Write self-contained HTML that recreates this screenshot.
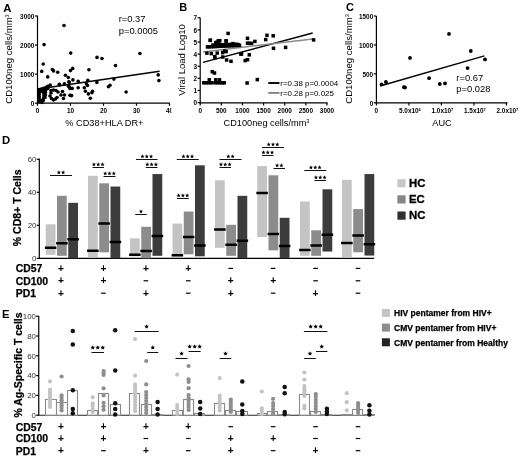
<!DOCTYPE html>
<html><head><meta charset="utf-8"><style>
html,body{margin:0;padding:0;background:#fff;}
svg{display:block;filter:blur(0.2px);}
text{font-family:"Liberation Sans", sans-serif;}
</style></head><body>
<svg width="520" height="456" viewBox="0 0 520 456">
<rect width="520" height="456" fill="#fff"/>
<text x="3.2" y="11.5" font-size="11.3" font-weight="bold" text-anchor="start" fill="#000">A</text>
<line x1="37.5" y1="15.7" x2="37.5" y2="103.8" stroke="#000" stroke-width="1.2"/>
<line x1="36.9" y1="103.2" x2="169.8" y2="103.2" stroke="#000" stroke-width="1.2"/>
<line x1="34.9" y1="103.2" x2="37.5" y2="103.2" stroke="#000" stroke-width="1.2"/>
<text x="34.3" y="105.9" font-size="6.4" font-weight="bold" text-anchor="end" fill="#000">0</text>
<line x1="34.9" y1="74.13" x2="37.5" y2="74.13" stroke="#000" stroke-width="1.2"/>
<text x="34.3" y="76.83" font-size="6.4" font-weight="bold" text-anchor="end" fill="#000">1000</text>
<line x1="34.9" y1="45.06" x2="37.5" y2="45.06" stroke="#000" stroke-width="1.2"/>
<text x="34.3" y="47.760000000000005" font-size="6.4" font-weight="bold" text-anchor="end" fill="#000">2000</text>
<line x1="34.9" y1="15.989999999999995" x2="37.5" y2="15.989999999999995" stroke="#000" stroke-width="1.2"/>
<text x="34.3" y="18.689999999999994" font-size="6.4" font-weight="bold" text-anchor="end" fill="#000">3000</text>
<line x1="37.5" y1="103.2" x2="37.5" y2="105.8" stroke="#000" stroke-width="1.2"/>
<text x="37.5" y="112.7" font-size="6.4" font-weight="bold" text-anchor="middle" fill="#000">0</text>
<line x1="70.5" y1="103.2" x2="70.5" y2="105.8" stroke="#000" stroke-width="1.2"/>
<text x="70.5" y="112.7" font-size="6.4" font-weight="bold" text-anchor="middle" fill="#000">10</text>
<line x1="103.5" y1="103.2" x2="103.5" y2="105.8" stroke="#000" stroke-width="1.2"/>
<text x="103.5" y="112.7" font-size="6.4" font-weight="bold" text-anchor="middle" fill="#000">20</text>
<line x1="136.5" y1="103.2" x2="136.5" y2="105.8" stroke="#000" stroke-width="1.2"/>
<text x="136.5" y="112.7" font-size="6.4" font-weight="bold" text-anchor="middle" fill="#000">30</text>
<line x1="169.5" y1="103.2" x2="169.5" y2="105.8" stroke="#000" stroke-width="1.2"/>
<text x="169.5" y="112.7" font-size="6.4" font-weight="bold" text-anchor="middle" fill="#000">40</text>
<text x="12.1" y="59" font-size="9.6" text-anchor="middle" fill="#000" transform="rotate(-90 12.1 59)">CD100neg cells/mm<tspan font-size="5.6" dy="-3">3</tspan></text>
<rect x="171.40" y="105.00" width="4.50" height="9.00" fill="#fff"/>
<text x="104.4" y="126.4" font-size="9.2" text-anchor="middle" fill="#000">% CD38+HLA DR+</text>
<text x="118.7" y="22.3" font-size="9.4" text-anchor="start" fill="#000">r=0.37</text>
<text x="118.7" y="33.7" font-size="9.4" text-anchor="start" fill="#000">p=0.0005</text>
<line x1="38" y1="89.1" x2="159.6" y2="71.3" stroke="#000" stroke-width="1.5"/>
<circle cx="64.00" cy="25.50" r="1.8" fill="#000"/>
<circle cx="44.10" cy="44.60" r="1.8" fill="#000"/>
<circle cx="70.70" cy="53.10" r="1.8" fill="#000"/>
<circle cx="97.00" cy="57.40" r="1.8" fill="#000"/>
<circle cx="102.00" cy="58.50" r="1.8" fill="#000"/>
<circle cx="43.20" cy="64.00" r="1.8" fill="#000"/>
<circle cx="41.70" cy="71.40" r="1.8" fill="#000"/>
<circle cx="52.40" cy="69.50" r="1.8" fill="#000"/>
<circle cx="53.50" cy="70.90" r="1.8" fill="#000"/>
<circle cx="57.70" cy="72.20" r="1.8" fill="#000"/>
<circle cx="47.70" cy="76.90" r="1.8" fill="#000"/>
<circle cx="72.70" cy="68.40" r="1.8" fill="#000"/>
<circle cx="70.50" cy="70.60" r="1.8" fill="#000"/>
<circle cx="65.40" cy="75.30" r="1.8" fill="#000"/>
<circle cx="68.30" cy="77.50" r="1.8" fill="#000"/>
<circle cx="72.90" cy="79.90" r="1.8" fill="#000"/>
<circle cx="68.90" cy="81.80" r="1.8" fill="#000"/>
<circle cx="59.30" cy="84.40" r="1.8" fill="#000"/>
<circle cx="64.50" cy="84.00" r="1.8" fill="#000"/>
<circle cx="50.20" cy="85.10" r="1.8" fill="#000"/>
<circle cx="47.50" cy="86.80" r="1.8" fill="#000"/>
<circle cx="68.90" cy="86.20" r="1.8" fill="#000"/>
<circle cx="72.20" cy="88.40" r="1.8" fill="#000"/>
<circle cx="71.00" cy="95.50" r="1.8" fill="#000"/>
<circle cx="115.50" cy="65.60" r="1.8" fill="#000"/>
<circle cx="88.90" cy="69.80" r="1.8" fill="#000"/>
<circle cx="78.20" cy="81.30" r="1.8" fill="#000"/>
<circle cx="87.80" cy="80.40" r="1.8" fill="#000"/>
<circle cx="96.90" cy="82.40" r="1.8" fill="#000"/>
<circle cx="113.90" cy="79.10" r="1.8" fill="#000"/>
<circle cx="86.40" cy="83.70" r="1.8" fill="#000"/>
<circle cx="87.50" cy="85.50" r="1.8" fill="#000"/>
<circle cx="84.30" cy="87.70" r="1.8" fill="#000"/>
<circle cx="78.20" cy="87.70" r="1.8" fill="#000"/>
<circle cx="108.40" cy="86.80" r="1.8" fill="#000"/>
<circle cx="110.00" cy="85.20" r="1.8" fill="#000"/>
<circle cx="85.40" cy="91.20" r="1.8" fill="#000"/>
<circle cx="88.40" cy="93.90" r="1.8" fill="#000"/>
<circle cx="91.90" cy="92.80" r="1.8" fill="#000"/>
<circle cx="92.50" cy="91.20" r="1.8" fill="#000"/>
<circle cx="90.30" cy="98.30" r="1.8" fill="#000"/>
<circle cx="71.60" cy="95.60" r="1.8" fill="#000"/>
<circle cx="139.90" cy="53.50" r="1.8" fill="#000"/>
<circle cx="158.20" cy="74.90" r="1.8" fill="#000"/>
<circle cx="158.90" cy="80.60" r="1.8" fill="#000"/>
<circle cx="126.10" cy="92.00" r="1.8" fill="#000"/>
<circle cx="39.30" cy="89.60" r="1.8" fill="#000"/>
<circle cx="39.30" cy="92.00" r="1.8" fill="#000"/>
<circle cx="39.30" cy="94.40" r="1.8" fill="#000"/>
<circle cx="39.30" cy="96.80" r="1.8" fill="#000"/>
<circle cx="39.30" cy="99.20" r="1.8" fill="#000"/>
<circle cx="39.30" cy="101.60" r="1.8" fill="#000"/>
<circle cx="41.40" cy="89.00" r="1.8" fill="#000"/>
<circle cx="41.40" cy="91.40" r="1.8" fill="#000"/>
<circle cx="41.40" cy="100.60" r="1.8" fill="#000"/>
<circle cx="41.80" cy="102.40" r="1.8" fill="#000"/>
<circle cx="43.60" cy="88.40" r="1.8" fill="#000"/>
<circle cx="43.60" cy="90.80" r="1.8" fill="#000"/>
<circle cx="43.80" cy="93.30" r="1.8" fill="#000"/>
<circle cx="43.80" cy="95.80" r="1.8" fill="#000"/>
<circle cx="43.60" cy="98.30" r="1.8" fill="#000"/>
<circle cx="43.20" cy="100.60" r="1.8" fill="#000"/>
<circle cx="45.70" cy="87.50" r="1.8" fill="#000"/>
<circle cx="45.70" cy="89.90" r="1.8" fill="#000"/>
<circle cx="45.50" cy="92.40" r="1.8" fill="#000"/>
<circle cx="45.30" cy="94.90" r="1.8" fill="#000"/>
<circle cx="45.00" cy="97.40" r="1.8" fill="#000"/>
<circle cx="47.60" cy="86.30" r="1.8" fill="#000"/>
<circle cx="47.80" cy="88.40" r="1.8" fill="#000"/>
<circle cx="51.00" cy="90.50" r="1.8" fill="#000"/>
<circle cx="53.50" cy="90.00" r="1.8" fill="#000"/>
<circle cx="56.00" cy="90.50" r="1.8" fill="#000"/>
<circle cx="58.00" cy="92.00" r="1.8" fill="#000"/>
<circle cx="51.00" cy="93.00" r="1.8" fill="#000"/>
<circle cx="50.00" cy="96.00" r="1.8" fill="#000"/>
<circle cx="51.50" cy="98.50" r="1.8" fill="#000"/>
<circle cx="53.50" cy="100.00" r="1.8" fill="#000"/>
<circle cx="55.50" cy="99.00" r="1.8" fill="#000"/>
<circle cx="57.00" cy="97.50" r="1.8" fill="#000"/>
<circle cx="62.50" cy="91.50" r="1.8" fill="#000"/>
<circle cx="61.00" cy="95.00" r="1.8" fill="#000"/>
<circle cx="64.50" cy="95.00" r="1.8" fill="#000"/>
<circle cx="63.50" cy="98.50" r="1.8" fill="#000"/>
<circle cx="70.00" cy="95.30" r="1.8" fill="#000"/>
<circle cx="59.50" cy="84.60" r="1.8" fill="#000"/>
<circle cx="64.40" cy="84.10" r="1.8" fill="#000"/>
<circle cx="69.20" cy="82.20" r="1.8" fill="#000"/>
<circle cx="68.50" cy="86.30" r="1.8" fill="#000"/>
<circle cx="69.90" cy="88.40" r="1.8" fill="#000"/>
<text x="179.3" y="10.9" font-size="11.0" font-weight="bold" text-anchor="start" fill="#000">B</text>
<line x1="200.2" y1="17.7" x2="200.2" y2="103.39999999999999" stroke="#000" stroke-width="1.2"/>
<line x1="199.6" y1="102.8" x2="327.5" y2="102.8" stroke="#000" stroke-width="1.2"/>
<line x1="197.6" y1="102.6" x2="200.2" y2="102.6" stroke="#000" stroke-width="1.2"/>
<text x="197.0" y="105.3" font-size="6.4" font-weight="bold" text-anchor="end" fill="#000">0</text>
<line x1="197.6" y1="90.47999999999999" x2="200.2" y2="90.47999999999999" stroke="#000" stroke-width="1.2"/>
<text x="197.0" y="93.17999999999999" font-size="6.4" font-weight="bold" text-anchor="end" fill="#000">1</text>
<line x1="197.6" y1="78.36" x2="200.2" y2="78.36" stroke="#000" stroke-width="1.2"/>
<text x="197.0" y="81.06" font-size="6.4" font-weight="bold" text-anchor="end" fill="#000">2</text>
<line x1="197.6" y1="66.24" x2="200.2" y2="66.24" stroke="#000" stroke-width="1.2"/>
<text x="197.0" y="68.94" font-size="6.4" font-weight="bold" text-anchor="end" fill="#000">3</text>
<line x1="197.6" y1="54.12" x2="200.2" y2="54.12" stroke="#000" stroke-width="1.2"/>
<text x="197.0" y="56.82" font-size="6.4" font-weight="bold" text-anchor="end" fill="#000">4</text>
<line x1="197.6" y1="42.0" x2="200.2" y2="42.0" stroke="#000" stroke-width="1.2"/>
<text x="197.0" y="44.7" font-size="6.4" font-weight="bold" text-anchor="end" fill="#000">5</text>
<line x1="197.6" y1="29.879999999999995" x2="200.2" y2="29.879999999999995" stroke="#000" stroke-width="1.2"/>
<text x="197.0" y="32.58" font-size="6.4" font-weight="bold" text-anchor="end" fill="#000">6</text>
<line x1="197.6" y1="17.760000000000005" x2="200.2" y2="17.760000000000005" stroke="#000" stroke-width="1.2"/>
<text x="197.0" y="20.460000000000004" font-size="6.4" font-weight="bold" text-anchor="end" fill="#000">7</text>
<line x1="200.2" y1="102.8" x2="200.2" y2="105.39999999999999" stroke="#000" stroke-width="1.2"/>
<text x="200.2" y="112.7" font-size="6.4" font-weight="bold" text-anchor="middle" fill="#000">0</text>
<line x1="221.32999999999998" y1="102.8" x2="221.32999999999998" y2="105.39999999999999" stroke="#000" stroke-width="1.2"/>
<text x="221.32999999999998" y="112.7" font-size="6.4" font-weight="bold" text-anchor="middle" fill="#000">500</text>
<line x1="242.45999999999998" y1="102.8" x2="242.45999999999998" y2="105.39999999999999" stroke="#000" stroke-width="1.2"/>
<text x="242.45999999999998" y="112.7" font-size="6.4" font-weight="bold" text-anchor="middle" fill="#000">1000</text>
<line x1="263.59" y1="102.8" x2="263.59" y2="105.39999999999999" stroke="#000" stroke-width="1.2"/>
<text x="263.59" y="112.7" font-size="6.4" font-weight="bold" text-anchor="middle" fill="#000">1500</text>
<line x1="284.71999999999997" y1="102.8" x2="284.71999999999997" y2="105.39999999999999" stroke="#000" stroke-width="1.2"/>
<text x="284.71999999999997" y="112.7" font-size="6.4" font-weight="bold" text-anchor="middle" fill="#000">2000</text>
<line x1="305.84999999999997" y1="102.8" x2="305.84999999999997" y2="105.39999999999999" stroke="#000" stroke-width="1.2"/>
<text x="305.84999999999997" y="112.7" font-size="6.4" font-weight="bold" text-anchor="middle" fill="#000">2500</text>
<line x1="326.98" y1="102.8" x2="326.98" y2="105.39999999999999" stroke="#000" stroke-width="1.2"/>
<text x="326.98" y="112.7" font-size="6.4" font-weight="bold" text-anchor="middle" fill="#000">3000</text>
<text x="184.8" y="60" font-size="9.5" text-anchor="middle" fill="#000" transform="rotate(-90 184.8 60)">Viral Load Log10</text>
<text x="266.5" y="126.4" font-size="9.2" text-anchor="middle" fill="#000">CD100neg cells/mm<tspan font-size="5.6" dy="-3">3</tspan></text>
<line x1="203" y1="62.4" x2="312.7" y2="33" stroke="#000" stroke-width="1.5"/>
<line x1="203" y1="52" x2="312.7" y2="39" stroke="#8a8a8a" stroke-width="1.5"/>
<line x1="268.3" y1="83.0" x2="279.5" y2="83.0" stroke="#000" stroke-width="1.9"/>
<text x="280.3" y="85.8" font-size="7.9" text-anchor="start" fill="#000">r=0.38 p=0.0004</text>
<line x1="268.3" y1="92.9" x2="279.5" y2="92.9" stroke="#808080" stroke-width="1.9"/>
<text x="280.3" y="95.5" font-size="7.9" text-anchor="start" fill="#000">r=0.28 p=0.025</text>
<rect x="226.35" y="31.65" width="3.50" height="3.50" fill="#000"/>
<rect x="208.45" y="38.45" width="3.50" height="3.50" fill="#000"/>
<rect x="224.35" y="39.05" width="3.50" height="3.50" fill="#000"/>
<rect x="217.45" y="39.05" width="3.50" height="3.50" fill="#000"/>
<rect x="215.45" y="40.55" width="3.50" height="3.50" fill="#000"/>
<rect x="245.75" y="36.55" width="3.50" height="3.50" fill="#000"/>
<rect x="245.75" y="41.45" width="3.50" height="3.50" fill="#000"/>
<rect x="247.15" y="41.55" width="3.50" height="3.50" fill="#000"/>
<rect x="249.85" y="41.55" width="3.50" height="3.50" fill="#000"/>
<rect x="253.15" y="39.65" width="3.50" height="3.50" fill="#000"/>
<rect x="263.95" y="37.85" width="3.50" height="3.50" fill="#000"/>
<rect x="265.25" y="33.55" width="3.50" height="3.50" fill="#000"/>
<rect x="271.45" y="34.05" width="3.50" height="3.50" fill="#000"/>
<rect x="271.75" y="46.55" width="3.50" height="3.50" fill="#000"/>
<rect x="283.85" y="45.65" width="3.50" height="3.50" fill="#000"/>
<rect x="311.85" y="38.15" width="3.50" height="3.50" fill="#000"/>
<rect x="239.75" y="52.15" width="3.50" height="3.50" fill="#000"/>
<rect x="247.55" y="53.05" width="3.50" height="3.50" fill="#000"/>
<rect x="243.45" y="58.85" width="3.50" height="3.50" fill="#000"/>
<rect x="245.75" y="57.95" width="3.50" height="3.50" fill="#000"/>
<rect x="245.35" y="81.25" width="3.50" height="3.50" fill="#000"/>
<rect x="255.55" y="77.85" width="3.50" height="3.50" fill="#000"/>
<rect x="205.15" y="51.35" width="3.50" height="3.50" fill="#000"/>
<rect x="209.55" y="51.85" width="3.50" height="3.50" fill="#000"/>
<rect x="215.45" y="51.35" width="3.50" height="3.50" fill="#000"/>
<rect x="220.95" y="50.85" width="3.50" height="3.50" fill="#000"/>
<rect x="222.85" y="49.35" width="3.50" height="3.50" fill="#000"/>
<rect x="224.35" y="49.85" width="3.50" height="3.50" fill="#000"/>
<rect x="213.05" y="54.85" width="3.50" height="3.50" fill="#000"/>
<rect x="213.05" y="56.25" width="3.50" height="3.50" fill="#000"/>
<rect x="220.95" y="55.25" width="3.50" height="3.50" fill="#000"/>
<rect x="224.85" y="58.25" width="3.50" height="3.50" fill="#000"/>
<rect x="229.25" y="59.55" width="3.50" height="3.50" fill="#000"/>
<rect x="239.15" y="52.35" width="3.50" height="3.50" fill="#000"/>
<rect x="210.55" y="69.95" width="3.50" height="3.50" fill="#000"/>
<rect x="212.75" y="71.25" width="3.50" height="3.50" fill="#000"/>
<rect x="207.55" y="78.05" width="3.50" height="3.50" fill="#000"/>
<rect x="214.05" y="78.05" width="3.50" height="3.50" fill="#000"/>
<rect x="217.75" y="78.05" width="3.50" height="3.50" fill="#000"/>
<rect x="201.95" y="81.05" width="3.50" height="3.50" fill="#000"/>
<rect x="204.55" y="81.05" width="3.50" height="3.50" fill="#000"/>
<rect x="207.25" y="81.05" width="3.50" height="3.50" fill="#000"/>
<rect x="209.75" y="81.05" width="3.50" height="3.50" fill="#000"/>
<rect x="213.25" y="81.05" width="3.50" height="3.50" fill="#000"/>
<rect x="215.75" y="81.05" width="3.50" height="3.50" fill="#000"/>
<rect x="218.25" y="81.05" width="3.50" height="3.50" fill="#000"/>
<rect x="220.75" y="81.05" width="3.50" height="3.50" fill="#000"/>
<rect x="222.55" y="81.05" width="3.50" height="3.50" fill="#000"/>
<rect x="205.75" y="45.15" width="3.50" height="3.50" fill="#000"/>
<rect x="207.75" y="45.05" width="3.50" height="3.50" fill="#000"/>
<rect x="209.75" y="44.95" width="3.50" height="3.50" fill="#000"/>
<rect x="211.75" y="44.85" width="3.50" height="3.50" fill="#000"/>
<rect x="213.75" y="44.75" width="3.50" height="3.50" fill="#000"/>
<rect x="215.75" y="44.65" width="3.50" height="3.50" fill="#000"/>
<rect x="217.75" y="44.55" width="3.50" height="3.50" fill="#000"/>
<rect x="219.75" y="44.45" width="3.50" height="3.50" fill="#000"/>
<rect x="221.75" y="44.35" width="3.50" height="3.50" fill="#000"/>
<rect x="223.75" y="44.25" width="3.50" height="3.50" fill="#000"/>
<rect x="225.75" y="44.15" width="3.50" height="3.50" fill="#000"/>
<rect x="227.75" y="44.05" width="3.50" height="3.50" fill="#000"/>
<rect x="229.75" y="43.95" width="3.50" height="3.50" fill="#000"/>
<rect x="231.75" y="43.85" width="3.50" height="3.50" fill="#000"/>
<rect x="233.75" y="43.75" width="3.50" height="3.50" fill="#000"/>
<rect x="235.75" y="43.65" width="3.50" height="3.50" fill="#000"/>
<rect x="237.75" y="43.55" width="3.50" height="3.50" fill="#000"/>
<rect x="211.25" y="43.25" width="3.50" height="3.50" fill="#000"/>
<rect x="213.85" y="43.17" width="3.50" height="3.50" fill="#000"/>
<rect x="216.45" y="43.09" width="3.50" height="3.50" fill="#000"/>
<rect x="219.05" y="43.02" width="3.50" height="3.50" fill="#000"/>
<rect x="221.65" y="42.94" width="3.50" height="3.50" fill="#000"/>
<rect x="224.25" y="42.86" width="3.50" height="3.50" fill="#000"/>
<rect x="226.85" y="42.78" width="3.50" height="3.50" fill="#000"/>
<rect x="229.45" y="42.70" width="3.50" height="3.50" fill="#000"/>
<rect x="232.05" y="42.63" width="3.50" height="3.50" fill="#000"/>
<rect x="234.65" y="42.55" width="3.50" height="3.50" fill="#000"/>
<rect x="208.65" y="38.65" width="3.50" height="3.50" fill="#000"/>
<rect x="216.45" y="39.25" width="3.50" height="3.50" fill="#000"/>
<rect x="218.05" y="38.95" width="3.50" height="3.50" fill="#000"/>
<rect x="214.05" y="40.85" width="3.50" height="3.50" fill="#000"/>
<rect x="224.45" y="39.25" width="3.50" height="3.50" fill="#000"/>
<rect x="231.15" y="41.85" width="3.50" height="3.50" fill="#000"/>
<rect x="236.25" y="42.85" width="3.50" height="3.50" fill="#000"/>
<text x="345.9" y="10.9" font-size="11.0" font-weight="bold" text-anchor="start" fill="#000">C</text>
<line x1="376.4" y1="16.0" x2="376.4" y2="103.39999999999999" stroke="#000" stroke-width="1.2"/>
<line x1="375.79999999999995" y1="102.8" x2="507.5" y2="102.8" stroke="#000" stroke-width="1.2"/>
<line x1="373.79999999999995" y1="102.8" x2="376.4" y2="102.8" stroke="#000" stroke-width="1.2"/>
<text x="373.2" y="105.5" font-size="6.4" font-weight="bold" text-anchor="end" fill="#000">0</text>
<line x1="373.79999999999995" y1="73.87" x2="376.4" y2="73.87" stroke="#000" stroke-width="1.2"/>
<text x="373.2" y="76.57000000000001" font-size="6.4" font-weight="bold" text-anchor="end" fill="#000">500</text>
<line x1="373.79999999999995" y1="44.94" x2="376.4" y2="44.94" stroke="#000" stroke-width="1.2"/>
<text x="373.2" y="47.64" font-size="6.4" font-weight="bold" text-anchor="end" fill="#000">1000</text>
<line x1="373.79999999999995" y1="16.010000000000005" x2="376.4" y2="16.010000000000005" stroke="#000" stroke-width="1.2"/>
<text x="373.2" y="18.710000000000004" font-size="6.4" font-weight="bold" text-anchor="end" fill="#000">1500</text>
<line x1="376.4" y1="102.8" x2="376.4" y2="105.39999999999999" stroke="#000" stroke-width="1.2"/>
<text x="376.4" y="112.7" font-size="6.4" font-weight="bold" text-anchor="middle" fill="#000">0</text>
<line x1="408.9" y1="102.8" x2="408.9" y2="105.39999999999999" stroke="#000" stroke-width="1.2"/>
<text x="409.9" y="112.7" font-size="6.4" font-weight="bold" text-anchor="middle" fill="#000">5.0x10<tspan font-size="4" dy="-2">6</tspan></text>
<line x1="441.4" y1="102.8" x2="441.4" y2="105.39999999999999" stroke="#000" stroke-width="1.2"/>
<text x="442.4" y="112.7" font-size="6.4" font-weight="bold" text-anchor="middle" fill="#000">1.0x10<tspan font-size="4" dy="-2">7</tspan></text>
<line x1="473.9" y1="102.8" x2="473.9" y2="105.39999999999999" stroke="#000" stroke-width="1.2"/>
<text x="474.9" y="112.7" font-size="6.4" font-weight="bold" text-anchor="middle" fill="#000">1.5x10<tspan font-size="4" dy="-2">7</tspan></text>
<line x1="506.4" y1="102.8" x2="506.4" y2="105.39999999999999" stroke="#000" stroke-width="1.2"/>
<text x="507.4" y="112.7" font-size="6.4" font-weight="bold" text-anchor="middle" fill="#000">2.0x10<tspan font-size="4" dy="-2">7</tspan></text>
<text x="352.4" y="59" font-size="9.6" text-anchor="middle" fill="#000" transform="rotate(-90 352.4 59)">CD100neg cells/mm<tspan font-size="5.6" dy="-3">3</tspan></text>
<text x="442" y="126.4" font-size="9.2" text-anchor="middle" fill="#000">AUC</text>
<text x="456.3" y="80.9" font-size="9.4" text-anchor="start" fill="#000">r=0.67</text>
<text x="456.3" y="91.5" font-size="9.4" text-anchor="start" fill="#000">p=0.028</text>
<line x1="380.1" y1="86" x2="484.4" y2="55.9" stroke="#000" stroke-width="1.5"/>
<circle cx="381.60" cy="84.30" r="1.9" fill="#000"/>
<circle cx="385.90" cy="82.00" r="1.9" fill="#000"/>
<circle cx="403.90" cy="87.20" r="1.9" fill="#000"/>
<circle cx="405.00" cy="87.50" r="1.9" fill="#000"/>
<circle cx="410.00" cy="57.90" r="1.9" fill="#000"/>
<circle cx="429.10" cy="78.20" r="1.9" fill="#000"/>
<circle cx="439.80" cy="84.00" r="1.9" fill="#000"/>
<circle cx="445.00" cy="83.40" r="1.9" fill="#000"/>
<circle cx="449.00" cy="33.90" r="1.9" fill="#000"/>
<circle cx="467.60" cy="68.10" r="1.9" fill="#000"/>
<circle cx="470.80" cy="51.00" r="1.9" fill="#000"/>
<circle cx="485.00" cy="59.40" r="1.9" fill="#000"/>
<text x="2.0" y="143.9" font-size="11.3" font-weight="bold" text-anchor="start" fill="#000">D</text>
<line x1="39.3" y1="158.6" x2="39.3" y2="258.90000000000003" stroke="#000" stroke-width="1.2"/>
<line x1="38.699999999999996" y1="258.3" x2="374.1" y2="258.3" stroke="#000" stroke-width="1.2"/>
<line x1="36.699999999999996" y1="258.3" x2="39.3" y2="258.3" stroke="#000" stroke-width="1.2"/>
<text x="36.5" y="261.1" font-size="7.9" text-anchor="end" fill="#333">0</text>
<line x1="36.699999999999996" y1="225.3" x2="39.3" y2="225.3" stroke="#000" stroke-width="1.2"/>
<text x="36.5" y="228.10000000000002" font-size="7.9" text-anchor="end" fill="#333">20</text>
<line x1="36.699999999999996" y1="192.3" x2="39.3" y2="192.3" stroke="#000" stroke-width="1.2"/>
<text x="36.5" y="195.10000000000002" font-size="7.9" text-anchor="end" fill="#333">40</text>
<line x1="36.699999999999996" y1="159.3" x2="39.3" y2="159.3" stroke="#000" stroke-width="1.2"/>
<text x="36.5" y="162.10000000000002" font-size="7.9" text-anchor="end" fill="#333">60</text>
<text x="21.5" y="207.8" font-size="10.5" font-weight="bold" text-anchor="middle" fill="#000" transform="rotate(-90 21.5 207.8)" stroke="#000" stroke-width="0.25">% CD8+ T Cells</text>
<rect x="45.75" y="224.30" width="9.75" height="30.50" fill="#c4c4c4"/>
<rect x="44.85" y="246.50" width="11.55" height="2.50" fill="#000"/>
<rect x="57.00" y="195.80" width="9.75" height="60.00" fill="#8c8c8c"/>
<rect x="56.10" y="242.00" width="11.55" height="2.50" fill="#000"/>
<rect x="68.25" y="202.80" width="9.75" height="55.50" fill="#3c3c3c"/>
<rect x="67.35" y="238.00" width="11.55" height="2.50" fill="#000"/>
<rect x="88.00" y="175.80" width="9.75" height="81.50" fill="#c4c4c4"/>
<rect x="87.10" y="249.50" width="11.55" height="2.50" fill="#000"/>
<rect x="99.25" y="183.30" width="9.75" height="69.00" fill="#8c8c8c"/>
<rect x="98.35" y="222.25" width="11.55" height="2.50" fill="#000"/>
<rect x="110.50" y="186.55" width="9.75" height="71.75" fill="#3c3c3c"/>
<rect x="109.60" y="240.75" width="11.55" height="2.50" fill="#000"/>
<rect x="130.00" y="238.30" width="9.75" height="18.00" fill="#c4c4c4"/>
<rect x="129.10" y="253.50" width="11.55" height="2.50" fill="#000"/>
<rect x="141.25" y="226.80" width="9.75" height="31.50" fill="#8c8c8c"/>
<rect x="140.35" y="249.75" width="11.55" height="2.50" fill="#000"/>
<rect x="152.50" y="174.05" width="9.75" height="81.75" fill="#3c3c3c"/>
<rect x="151.60" y="234.75" width="11.55" height="2.50" fill="#000"/>
<rect x="172.50" y="223.55" width="9.75" height="33.00" fill="#c4c4c4"/>
<rect x="171.60" y="254.00" width="11.55" height="2.50" fill="#000"/>
<rect x="183.75" y="211.55" width="9.75" height="42.75" fill="#8c8c8c"/>
<rect x="182.85" y="235.75" width="11.55" height="2.50" fill="#000"/>
<rect x="195.00" y="165.30" width="9.75" height="91.00" fill="#3c3c3c"/>
<rect x="194.10" y="244.25" width="11.55" height="2.50" fill="#000"/>
<rect x="215.00" y="180.30" width="9.75" height="67.50" fill="#c4c4c4"/>
<rect x="214.10" y="228.25" width="11.55" height="2.50" fill="#000"/>
<rect x="226.25" y="224.80" width="9.75" height="31.00" fill="#8c8c8c"/>
<rect x="225.35" y="243.50" width="11.55" height="2.50" fill="#000"/>
<rect x="237.50" y="195.80" width="9.75" height="62.50" fill="#3c3c3c"/>
<rect x="236.60" y="239.50" width="11.55" height="2.50" fill="#000"/>
<rect x="257.25" y="166.05" width="9.75" height="71.00" fill="#c4c4c4"/>
<rect x="256.35" y="191.75" width="11.55" height="2.50" fill="#000"/>
<rect x="268.50" y="175.30" width="9.75" height="75.00" fill="#8c8c8c"/>
<rect x="267.60" y="232.75" width="11.55" height="2.50" fill="#000"/>
<rect x="279.75" y="217.80" width="9.75" height="40.50" fill="#3c3c3c"/>
<rect x="278.85" y="244.75" width="11.55" height="2.50" fill="#000"/>
<rect x="300.00" y="201.55" width="9.75" height="54.25" fill="#c4c4c4"/>
<rect x="299.10" y="248.75" width="11.55" height="2.50" fill="#000"/>
<rect x="311.25" y="230.30" width="9.75" height="25.50" fill="#8c8c8c"/>
<rect x="310.35" y="244.25" width="11.55" height="2.50" fill="#000"/>
<rect x="322.50" y="189.30" width="9.75" height="62.25" fill="#3c3c3c"/>
<rect x="321.60" y="233.50" width="11.55" height="2.50" fill="#000"/>
<rect x="342.00" y="179.80" width="9.75" height="77.50" fill="#c4c4c4"/>
<rect x="341.10" y="241.75" width="11.55" height="2.50" fill="#000"/>
<rect x="353.25" y="209.05" width="9.75" height="43.25" fill="#8c8c8c"/>
<rect x="352.35" y="234.25" width="11.55" height="2.50" fill="#000"/>
<rect x="364.50" y="174.05" width="9.75" height="81.50" fill="#3c3c3c"/>
<rect x="363.60" y="243.00" width="11.55" height="2.50" fill="#000"/>
<line x1="50" y1="175.5" x2="72" y2="175.5" stroke="#111" stroke-width="1.0"/>
<polygon points="58.85,170.35 59.44,171.69 60.89,171.84 59.80,172.81 60.11,174.24 58.85,173.50 57.59,174.24 57.90,172.81 56.81,171.84 58.26,171.69" fill="#000"/>
<polygon points="63.15,170.35 63.74,171.69 65.19,171.84 64.10,172.81 64.41,174.24 63.15,173.50 61.89,174.24 62.20,172.81 61.11,171.84 62.56,171.69" fill="#000"/>
<line x1="92.5" y1="167.5" x2="104" y2="167.5" stroke="#111" stroke-width="1.0"/>
<polygon points="93.95,162.35 94.54,163.69 95.99,163.84 94.90,164.81 95.21,166.24 93.95,165.50 92.69,166.24 93.00,164.81 91.91,163.84 93.36,163.69" fill="#000"/>
<polygon points="98.25,162.35 98.84,163.69 100.29,163.84 99.20,164.81 99.51,166.24 98.25,165.50 96.99,166.24 97.30,164.81 96.21,163.84 97.66,163.69" fill="#000"/>
<polygon points="102.55,162.35 103.14,163.69 104.59,163.84 103.50,164.81 103.81,166.24 102.55,165.50 101.29,166.24 101.60,164.81 100.51,163.84 101.96,163.69" fill="#000"/>
<line x1="103.5" y1="176.5" x2="115.5" y2="176.5" stroke="#111" stroke-width="1.0"/>
<polygon points="105.20,171.35 105.79,172.69 107.24,172.84 106.15,173.81 106.46,175.24 105.20,174.50 103.94,175.24 104.25,173.81 103.16,172.84 104.61,172.69" fill="#000"/>
<polygon points="109.50,171.35 110.09,172.69 111.54,172.84 110.45,173.81 110.76,175.24 109.50,174.50 108.24,175.24 108.55,173.81 107.46,172.84 108.91,172.69" fill="#000"/>
<polygon points="113.80,171.35 114.39,172.69 115.84,172.84 114.75,173.81 115.06,175.24 113.80,174.50 112.54,175.24 112.85,173.81 111.76,172.84 113.21,172.69" fill="#000"/>
<line x1="136" y1="159.5" x2="157.5" y2="159.5" stroke="#111" stroke-width="1.0"/>
<polygon points="142.45,154.35 143.04,155.69 144.49,155.84 143.40,156.81 143.71,158.24 142.45,157.50 141.19,158.24 141.50,156.81 140.41,155.84 141.86,155.69" fill="#000"/>
<polygon points="146.75,154.35 147.34,155.69 148.79,155.84 147.70,156.81 148.01,158.24 146.75,157.50 145.49,158.24 145.80,156.81 144.71,155.84 146.16,155.69" fill="#000"/>
<polygon points="151.05,154.35 151.64,155.69 153.09,155.84 152.00,156.81 152.31,158.24 151.05,157.50 149.79,158.24 150.10,156.81 149.01,155.84 150.46,155.69" fill="#000"/>
<line x1="145.75" y1="167.5" x2="157.5" y2="167.5" stroke="#111" stroke-width="1.0"/>
<polygon points="147.32,162.35 147.91,163.69 149.37,163.84 148.28,164.81 148.59,166.24 147.32,165.50 146.06,166.24 146.37,164.81 145.28,163.84 146.74,163.69" fill="#000"/>
<polygon points="151.62,162.35 152.21,163.69 153.67,163.84 152.58,164.81 152.89,166.24 151.62,165.50 150.36,166.24 150.67,164.81 149.58,163.84 151.04,163.69" fill="#000"/>
<polygon points="155.93,162.35 156.51,163.69 157.97,163.84 156.88,164.81 157.19,166.24 155.93,165.50 154.66,166.24 154.97,164.81 153.88,163.84 155.34,163.69" fill="#000"/>
<line x1="135.25" y1="214.5" x2="146.75" y2="214.5" stroke="#111" stroke-width="1.0"/>
<polygon points="141.00,209.35 141.59,210.69 143.04,210.84 141.95,211.81 142.26,213.24 141.00,212.50 139.74,213.24 140.05,211.81 138.96,210.84 140.41,210.69" fill="#000"/>
<line x1="176.75" y1="159.5" x2="198.75" y2="159.5" stroke="#111" stroke-width="1.0"/>
<polygon points="183.45,154.35 184.04,155.69 185.49,155.84 184.40,156.81 184.71,158.24 183.45,157.50 182.19,158.24 182.50,156.81 181.41,155.84 182.86,155.69" fill="#000"/>
<polygon points="187.75,154.35 188.34,155.69 189.79,155.84 188.70,156.81 189.01,158.24 187.75,157.50 186.49,158.24 186.80,156.81 185.71,155.84 187.16,155.69" fill="#000"/>
<polygon points="192.05,154.35 192.64,155.69 194.09,155.84 193.00,156.81 193.31,158.24 192.05,157.50 190.79,158.24 191.10,156.81 190.01,155.84 191.46,155.69" fill="#000"/>
<line x1="177" y1="198.5" x2="188.75" y2="198.5" stroke="#111" stroke-width="1.0"/>
<polygon points="178.57,193.35 179.16,194.69 180.62,194.84 179.53,195.81 179.84,197.24 178.57,196.50 177.31,197.24 177.62,195.81 176.53,194.84 177.99,194.69" fill="#000"/>
<polygon points="182.88,193.35 183.46,194.69 184.92,194.84 183.83,195.81 184.14,197.24 182.88,196.50 181.61,197.24 181.92,195.81 180.83,194.84 182.29,194.69" fill="#000"/>
<polygon points="187.18,193.35 187.76,194.69 189.22,194.84 188.13,195.81 188.44,197.24 187.18,196.50 185.91,197.24 186.22,195.81 185.13,194.84 186.59,194.69" fill="#000"/>
<line x1="219.5" y1="159.5" x2="241.5" y2="159.5" stroke="#111" stroke-width="1.0"/>
<polygon points="228.35,154.35 228.94,155.69 230.39,155.84 229.30,156.81 229.61,158.24 228.35,157.50 227.09,158.24 227.40,156.81 226.31,155.84 227.76,155.69" fill="#000"/>
<polygon points="232.65,154.35 233.24,155.69 234.69,155.84 233.60,156.81 233.91,158.24 232.65,157.50 231.39,158.24 231.70,156.81 230.61,155.84 232.06,155.69" fill="#000"/>
<line x1="219.5" y1="167.5" x2="231" y2="167.5" stroke="#111" stroke-width="1.0"/>
<polygon points="220.95,162.35 221.54,163.69 222.99,163.84 221.90,164.81 222.21,166.24 220.95,165.50 219.69,166.24 220.00,164.81 218.91,163.84 220.36,163.69" fill="#000"/>
<polygon points="225.25,162.35 225.84,163.69 227.29,163.84 226.20,164.81 226.51,166.24 225.25,165.50 223.99,166.24 224.30,164.81 223.21,163.84 224.66,163.69" fill="#000"/>
<polygon points="229.55,162.35 230.14,163.69 231.59,163.84 230.50,164.81 230.81,166.24 229.55,165.50 228.29,166.24 228.60,164.81 227.51,163.84 228.96,163.69" fill="#000"/>
<line x1="262" y1="147.5" x2="284" y2="147.5" stroke="#111" stroke-width="1.0"/>
<polygon points="268.70,142.35 269.29,143.69 270.74,143.84 269.65,144.81 269.96,146.24 268.70,145.50 267.44,146.24 267.75,144.81 266.66,143.84 268.11,143.69" fill="#000"/>
<polygon points="273.00,142.35 273.59,143.69 275.04,143.84 273.95,144.81 274.26,146.24 273.00,145.50 271.74,146.24 272.05,144.81 270.96,143.84 272.41,143.69" fill="#000"/>
<polygon points="277.30,142.35 277.89,143.69 279.34,143.84 278.25,144.81 278.56,146.24 277.30,145.50 276.04,146.24 276.35,144.81 275.26,143.84 276.71,143.69" fill="#000"/>
<line x1="262" y1="155.5" x2="273.5" y2="155.5" stroke="#111" stroke-width="1.0"/>
<polygon points="263.45,150.35 264.04,151.69 265.49,151.84 264.40,152.81 264.71,154.24 263.45,153.50 262.19,154.24 262.50,152.81 261.41,151.84 262.86,151.69" fill="#000"/>
<polygon points="267.75,150.35 268.34,151.69 269.79,151.84 268.70,152.81 269.01,154.24 267.75,153.50 266.49,154.24 266.80,152.81 265.71,151.84 267.16,151.69" fill="#000"/>
<polygon points="272.05,150.35 272.64,151.69 274.09,151.84 273.00,152.81 273.31,154.24 272.05,153.50 270.79,154.24 271.10,152.81 270.01,151.84 271.46,151.69" fill="#000"/>
<line x1="273.5" y1="168.5" x2="285" y2="168.5" stroke="#111" stroke-width="1.0"/>
<polygon points="277.10,163.35 277.69,164.69 279.14,164.84 278.05,165.81 278.36,167.24 277.10,166.50 275.84,167.24 276.15,165.81 275.06,164.84 276.51,164.69" fill="#000"/>
<polygon points="281.40,163.35 281.99,164.69 283.44,164.84 282.35,165.81 282.66,167.24 281.40,166.50 280.14,167.24 280.45,165.81 279.36,164.84 280.81,164.69" fill="#000"/>
<line x1="304.25" y1="170.5" x2="326.25" y2="170.5" stroke="#111" stroke-width="1.0"/>
<polygon points="310.95,165.35 311.54,166.69 312.99,166.84 311.90,167.81 312.21,169.24 310.95,168.50 309.69,169.24 310.00,167.81 308.91,166.84 310.36,166.69" fill="#000"/>
<polygon points="315.25,165.35 315.84,166.69 317.29,166.84 316.20,167.81 316.51,169.24 315.25,168.50 313.99,169.24 314.30,167.81 313.21,166.84 314.66,166.69" fill="#000"/>
<polygon points="319.55,165.35 320.14,166.69 321.59,166.84 320.50,167.81 320.81,169.24 319.55,168.50 318.29,169.24 318.60,167.81 317.51,166.84 318.96,166.69" fill="#000"/>
<line x1="314.5" y1="180.5" x2="326" y2="180.5" stroke="#111" stroke-width="1.0"/>
<polygon points="315.95,175.35 316.54,176.69 317.99,176.84 316.90,177.81 317.21,179.24 315.95,178.50 314.69,179.24 315.00,177.81 313.91,176.84 315.36,176.69" fill="#000"/>
<polygon points="320.25,175.35 320.84,176.69 322.29,176.84 321.20,177.81 321.51,179.24 320.25,178.50 318.99,179.24 319.30,177.81 318.21,176.84 319.66,176.69" fill="#000"/>
<polygon points="324.55,175.35 325.14,176.69 326.59,176.84 325.50,177.81 325.81,179.24 324.55,178.50 323.29,179.24 323.60,177.81 322.51,176.84 323.96,176.69" fill="#000"/>
<rect x="397.40" y="179.10" width="8.20" height="8.20" fill="#c8c8c8"/>
<text x="409" y="187.0" font-size="11.4" font-weight="bold" text-anchor="start" fill="#000" stroke="#000" stroke-width="0.3">HC</text>
<rect x="397.40" y="195.30" width="8.20" height="8.20" fill="#868686"/>
<text x="409" y="203.2" font-size="11.4" font-weight="bold" text-anchor="start" fill="#000" stroke="#000" stroke-width="0.3">EC</text>
<rect x="397.40" y="211.50" width="8.20" height="8.20" fill="#303030"/>
<text x="409" y="219.4" font-size="11.4" font-weight="bold" text-anchor="start" fill="#000" stroke="#000" stroke-width="0.3">NC</text>
<text x="15.8" y="272.2" font-size="10.4" font-weight="bold" text-anchor="start" fill="#000" stroke="#000" stroke-width="0.25">CD57</text>
<text x="15.8" y="284.6" font-size="10.4" font-weight="bold" text-anchor="start" fill="#000" stroke="#000" stroke-width="0.25">CD100</text>
<text x="15.8" y="297.0" font-size="10.4" font-weight="bold" text-anchor="start" fill="#000" stroke="#000" stroke-width="0.25">PD1</text>
<text x="61.0" y="271.9" font-size="10.2" font-weight="bold" text-anchor="middle" fill="#000">+</text>
<text x="61.0" y="284.3" font-size="10.2" font-weight="bold" text-anchor="middle" fill="#000">+</text>
<text x="61.0" y="296.7" font-size="10.2" font-weight="bold" text-anchor="middle" fill="#000">+</text>
<text x="103.43" y="271.9" font-size="10.2" font-weight="bold" text-anchor="middle" fill="#000">+</text>
<text x="103.43" y="284.3" font-size="10.2" font-weight="bold" text-anchor="middle" fill="#000">+</text>
<line x1="101.13000000000001" y1="293.2" x2="105.73" y2="293.2" stroke="#000" stroke-width="1.2"/>
<text x="145.86" y="271.9" font-size="10.2" font-weight="bold" text-anchor="middle" fill="#000">+</text>
<line x1="143.56" y1="280.8" x2="148.16000000000003" y2="280.8" stroke="#000" stroke-width="1.2"/>
<text x="145.86" y="296.7" font-size="10.2" font-weight="bold" text-anchor="middle" fill="#000">+</text>
<text x="188.29" y="271.9" font-size="10.2" font-weight="bold" text-anchor="middle" fill="#000">+</text>
<line x1="185.98999999999998" y1="280.8" x2="190.59" y2="280.8" stroke="#000" stroke-width="1.2"/>
<line x1="185.98999999999998" y1="293.2" x2="190.59" y2="293.2" stroke="#000" stroke-width="1.2"/>
<line x1="228.42" y1="268.4" x2="233.02" y2="268.4" stroke="#000" stroke-width="1.2"/>
<text x="230.72" y="284.3" font-size="10.2" font-weight="bold" text-anchor="middle" fill="#000">+</text>
<text x="230.72" y="296.7" font-size="10.2" font-weight="bold" text-anchor="middle" fill="#000">+</text>
<line x1="270.84999999999997" y1="268.4" x2="275.45" y2="268.4" stroke="#000" stroke-width="1.2"/>
<text x="273.15" y="284.3" font-size="10.2" font-weight="bold" text-anchor="middle" fill="#000">+</text>
<line x1="270.84999999999997" y1="293.2" x2="275.45" y2="293.2" stroke="#000" stroke-width="1.2"/>
<line x1="313.28" y1="268.4" x2="317.88" y2="268.4" stroke="#000" stroke-width="1.2"/>
<line x1="313.28" y1="280.8" x2="317.88" y2="280.8" stroke="#000" stroke-width="1.2"/>
<text x="315.58" y="296.7" font-size="10.2" font-weight="bold" text-anchor="middle" fill="#000">+</text>
<line x1="355.71" y1="268.4" x2="360.31" y2="268.4" stroke="#000" stroke-width="1.2"/>
<line x1="355.71" y1="280.8" x2="360.31" y2="280.8" stroke="#000" stroke-width="1.2"/>
<line x1="355.71" y1="293.2" x2="360.31" y2="293.2" stroke="#000" stroke-width="1.2"/>
<text x="2.0" y="318.4" font-size="11.3" font-weight="bold" text-anchor="start" fill="#000">E</text>
<line x1="38.75" y1="316.0" x2="38.75" y2="415.8" stroke="#000" stroke-width="1.2"/>
<line x1="38.15" y1="415.2" x2="374.0" y2="415.2" stroke="#222" stroke-width="1.1"/>
<line x1="36.15" y1="415.2" x2="38.75" y2="415.2" stroke="#000" stroke-width="1.2"/>
<text x="35.95" y="418.0" font-size="7.9" text-anchor="end" fill="#333">0</text>
<line x1="36.15" y1="395.4" x2="38.75" y2="395.4" stroke="#000" stroke-width="1.2"/>
<text x="35.95" y="398.2" font-size="7.9" text-anchor="end" fill="#333">20</text>
<line x1="36.15" y1="375.59999999999997" x2="38.75" y2="375.59999999999997" stroke="#000" stroke-width="1.2"/>
<text x="35.95" y="378.4" font-size="7.9" text-anchor="end" fill="#333">40</text>
<line x1="36.15" y1="355.79999999999995" x2="38.75" y2="355.79999999999995" stroke="#000" stroke-width="1.2"/>
<text x="35.95" y="358.59999999999997" font-size="7.9" text-anchor="end" fill="#333">60</text>
<line x1="36.15" y1="336.0" x2="38.75" y2="336.0" stroke="#000" stroke-width="1.2"/>
<text x="35.95" y="338.8" font-size="7.9" text-anchor="end" fill="#333">80</text>
<line x1="36.15" y1="316.2" x2="38.75" y2="316.2" stroke="#000" stroke-width="1.2"/>
<text x="35.95" y="319.0" font-size="7.9" text-anchor="end" fill="#333">100</text>
<text x="21.5" y="365" font-size="10.5" font-weight="bold" text-anchor="middle" fill="#000" transform="rotate(-90 21.5 365)" stroke="#000" stroke-width="0.25">% Ag-Specific T cells</text>
<rect x="45.50" y="399.50" width="11.00" height="15.70" fill="#fff" stroke="#8a8a8a" stroke-width="1.1"/>
<rect x="56.50" y="402.50" width="11.00" height="12.70" fill="#fff" stroke="#8a8a8a" stroke-width="1.1"/>
<rect x="67.50" y="390.50" width="10.00" height="24.70" fill="#fff" stroke="#8a8a8a" stroke-width="1.1"/>
<rect x="87.50" y="410.50" width="10.00" height="4.70" fill="#fff" stroke="#8a8a8a" stroke-width="1.1"/>
<rect x="98.50" y="393.50" width="10.00" height="21.70" fill="#fff" stroke="#8a8a8a" stroke-width="1.1"/>
<rect x="110.50" y="404.50" width="10.00" height="10.70" fill="#fff" stroke="#8a8a8a" stroke-width="1.1"/>
<rect x="129.50" y="393.50" width="10.00" height="21.70" fill="#fff" stroke="#8a8a8a" stroke-width="1.1"/>
<rect x="141.50" y="404.50" width="10.00" height="10.70" fill="#fff" stroke="#8a8a8a" stroke-width="1.1"/>
<rect x="152.50" y="414.50" width="10.00" height="0.70" fill="#fff" stroke="#8a8a8a" stroke-width="1.1"/>
<rect x="172.50" y="410.50" width="10.00" height="4.70" fill="#fff" stroke="#8a8a8a" stroke-width="1.1"/>
<rect x="183.50" y="399.50" width="10.00" height="15.70" fill="#fff" stroke="#8a8a8a" stroke-width="1.1"/>
<rect x="194.50" y="413.50" width="10.00" height="1.70" fill="#fff" stroke="#8a8a8a" stroke-width="1.1"/>
<rect x="214.50" y="403.50" width="10.00" height="11.70" fill="#fff" stroke="#8a8a8a" stroke-width="1.1"/>
<rect x="225.50" y="410.50" width="10.00" height="4.70" fill="#fff" stroke="#8a8a8a" stroke-width="1.1"/>
<rect x="236.50" y="411.50" width="11.00" height="3.70" fill="#fff" stroke="#8a8a8a" stroke-width="1.1"/>
<rect x="257.50" y="413.50" width="9.00" height="1.70" fill="#fff" stroke="#8a8a8a" stroke-width="1.1"/>
<rect x="267.50" y="411.50" width="10.00" height="3.70" fill="#fff" stroke="#8a8a8a" stroke-width="1.1"/>
<rect x="279.50" y="414.50" width="10.00" height="0.70" fill="#fff" stroke="#8a8a8a" stroke-width="1.1"/>
<rect x="299.50" y="394.50" width="10.00" height="20.70" fill="#fff" stroke="#8a8a8a" stroke-width="1.1"/>
<rect x="310.50" y="411.50" width="10.00" height="3.70" fill="#fff" stroke="#8a8a8a" stroke-width="1.1"/>
<rect x="321.50" y="414.50" width="10.00" height="0.70" fill="#fff" stroke="#8a8a8a" stroke-width="1.1"/>
<rect x="341.50" y="414.50" width="10.00" height="0.70" fill="#fff" stroke="#8a8a8a" stroke-width="1.1"/>
<rect x="352.50" y="409.50" width="10.00" height="5.70" fill="#fff" stroke="#8a8a8a" stroke-width="1.1"/>
<rect x="364.50" y="414.50" width="10.00" height="0.70" fill="#fff" stroke="#8a8a8a" stroke-width="1.1"/>
<circle cx="50.00" cy="381.40" r="2.1" fill="#c3c3c3"/>
<circle cx="50.00" cy="389.50" r="2.1" fill="#c3c3c3"/>
<circle cx="50.00" cy="392.00" r="2.1" fill="#c3c3c3"/>
<circle cx="50.00" cy="394.50" r="2.1" fill="#c3c3c3"/>
<circle cx="50.00" cy="397.00" r="2.1" fill="#c3c3c3"/>
<circle cx="50.00" cy="399.50" r="2.1" fill="#c3c3c3"/>
<circle cx="50.00" cy="402.00" r="2.1" fill="#c3c3c3"/>
<circle cx="50.00" cy="404.50" r="2.1" fill="#c3c3c3"/>
<circle cx="50.00" cy="407.00" r="2.1" fill="#c3c3c3"/>
<circle cx="61.60" cy="376.50" r="2.1" fill="#8e8e8e"/>
<circle cx="61.60" cy="395.30" r="2.1" fill="#8e8e8e"/>
<circle cx="61.60" cy="397.80" r="2.1" fill="#8e8e8e"/>
<circle cx="61.60" cy="400.30" r="2.1" fill="#8e8e8e"/>
<circle cx="61.60" cy="402.80" r="2.1" fill="#8e8e8e"/>
<circle cx="61.60" cy="405.30" r="2.1" fill="#8e8e8e"/>
<circle cx="61.60" cy="407.80" r="2.1" fill="#8e8e8e"/>
<circle cx="61.60" cy="410.50" r="2.1" fill="#8e8e8e"/>
<circle cx="72.80" cy="331.00" r="2.25" fill="#111"/>
<circle cx="72.80" cy="344.60" r="2.25" fill="#111"/>
<circle cx="72.80" cy="390.20" r="2.25" fill="#111"/>
<circle cx="72.80" cy="409.00" r="2.25" fill="#111"/>
<circle cx="72.80" cy="413.20" r="2.25" fill="#111"/>
<circle cx="92.70" cy="397.30" r="2.1" fill="#c3c3c3"/>
<circle cx="92.70" cy="403.30" r="2.1" fill="#c3c3c3"/>
<circle cx="92.70" cy="406.00" r="2.1" fill="#c3c3c3"/>
<circle cx="92.70" cy="409.00" r="2.1" fill="#c3c3c3"/>
<circle cx="92.70" cy="412.00" r="2.1" fill="#c3c3c3"/>
<circle cx="103.60" cy="371.00" r="2.1" fill="#8e8e8e"/>
<circle cx="103.60" cy="373.00" r="2.1" fill="#8e8e8e"/>
<circle cx="103.60" cy="375.00" r="2.1" fill="#8e8e8e"/>
<circle cx="103.60" cy="388.30" r="2.1" fill="#8e8e8e"/>
<circle cx="103.60" cy="395.40" r="2.1" fill="#8e8e8e"/>
<circle cx="103.60" cy="402.80" r="2.1" fill="#8e8e8e"/>
<circle cx="103.60" cy="406.30" r="2.1" fill="#8e8e8e"/>
<circle cx="103.60" cy="409.80" r="2.1" fill="#8e8e8e"/>
<circle cx="115.20" cy="330.20" r="2.25" fill="#111"/>
<circle cx="115.20" cy="370.50" r="2.25" fill="#111"/>
<circle cx="115.20" cy="403.30" r="2.25" fill="#111"/>
<circle cx="115.20" cy="408.90" r="2.25" fill="#111"/>
<circle cx="115.20" cy="414.60" r="2.25" fill="#111"/>
<circle cx="135.10" cy="339.00" r="2.1" fill="#c3c3c3"/>
<circle cx="135.10" cy="375.60" r="2.1" fill="#c3c3c3"/>
<circle cx="135.10" cy="384.40" r="2.1" fill="#c3c3c3"/>
<circle cx="135.10" cy="387.00" r="2.1" fill="#c3c3c3"/>
<circle cx="135.10" cy="390.00" r="2.1" fill="#c3c3c3"/>
<circle cx="135.10" cy="393.00" r="2.1" fill="#c3c3c3"/>
<circle cx="135.10" cy="396.00" r="2.1" fill="#c3c3c3"/>
<circle cx="135.10" cy="399.00" r="2.1" fill="#c3c3c3"/>
<circle cx="135.10" cy="402.00" r="2.1" fill="#c3c3c3"/>
<circle cx="135.10" cy="405.00" r="2.1" fill="#c3c3c3"/>
<circle cx="135.10" cy="408.00" r="2.1" fill="#c3c3c3"/>
<circle cx="135.10" cy="411.00" r="2.1" fill="#c3c3c3"/>
<circle cx="146.20" cy="361.00" r="2.1" fill="#8e8e8e"/>
<circle cx="146.20" cy="384.40" r="2.1" fill="#8e8e8e"/>
<circle cx="146.20" cy="392.00" r="2.1" fill="#8e8e8e"/>
<circle cx="146.20" cy="395.00" r="2.1" fill="#8e8e8e"/>
<circle cx="146.20" cy="398.00" r="2.1" fill="#8e8e8e"/>
<circle cx="146.20" cy="401.00" r="2.1" fill="#8e8e8e"/>
<circle cx="146.20" cy="404.00" r="2.1" fill="#8e8e8e"/>
<circle cx="146.20" cy="407.00" r="2.1" fill="#8e8e8e"/>
<circle cx="146.20" cy="410.00" r="2.1" fill="#8e8e8e"/>
<circle cx="146.20" cy="413.00" r="2.1" fill="#8e8e8e"/>
<circle cx="157.60" cy="402.00" r="2.25" fill="#111"/>
<circle cx="157.60" cy="408.90" r="2.25" fill="#111"/>
<circle cx="157.60" cy="414.60" r="2.25" fill="#111"/>
<circle cx="177.20" cy="374.60" r="2.1" fill="#c3c3c3"/>
<circle cx="177.20" cy="405.00" r="2.1" fill="#c3c3c3"/>
<circle cx="177.20" cy="408.00" r="2.1" fill="#c3c3c3"/>
<circle cx="177.20" cy="411.00" r="2.1" fill="#c3c3c3"/>
<circle cx="177.20" cy="414.00" r="2.1" fill="#c3c3c3"/>
<circle cx="188.60" cy="366.00" r="2.1" fill="#8e8e8e"/>
<circle cx="188.60" cy="379.40" r="2.1" fill="#8e8e8e"/>
<circle cx="188.60" cy="382.00" r="2.1" fill="#8e8e8e"/>
<circle cx="188.60" cy="388.20" r="2.1" fill="#8e8e8e"/>
<circle cx="188.60" cy="395.00" r="2.1" fill="#8e8e8e"/>
<circle cx="188.60" cy="398.00" r="2.1" fill="#8e8e8e"/>
<circle cx="188.60" cy="401.00" r="2.1" fill="#8e8e8e"/>
<circle cx="188.60" cy="404.00" r="2.1" fill="#8e8e8e"/>
<circle cx="188.60" cy="407.00" r="2.1" fill="#8e8e8e"/>
<circle cx="188.60" cy="410.00" r="2.1" fill="#8e8e8e"/>
<circle cx="200.20" cy="402.00" r="2.25" fill="#111"/>
<circle cx="200.20" cy="408.40" r="2.25" fill="#111"/>
<circle cx="200.20" cy="413.90" r="2.25" fill="#111"/>
<circle cx="219.70" cy="378.10" r="2.1" fill="#c3c3c3"/>
<circle cx="219.70" cy="395.70" r="2.1" fill="#c3c3c3"/>
<circle cx="219.70" cy="398.50" r="2.1" fill="#c3c3c3"/>
<circle cx="219.70" cy="401.50" r="2.1" fill="#c3c3c3"/>
<circle cx="219.70" cy="404.50" r="2.1" fill="#c3c3c3"/>
<circle cx="219.70" cy="407.50" r="2.1" fill="#c3c3c3"/>
<circle cx="219.70" cy="410.50" r="2.1" fill="#c3c3c3"/>
<circle cx="230.80" cy="399.50" r="2.1" fill="#8e8e8e"/>
<circle cx="230.80" cy="402.00" r="2.1" fill="#8e8e8e"/>
<circle cx="230.80" cy="404.50" r="2.1" fill="#8e8e8e"/>
<circle cx="230.80" cy="407.00" r="2.1" fill="#8e8e8e"/>
<circle cx="230.80" cy="409.50" r="2.1" fill="#8e8e8e"/>
<circle cx="230.80" cy="412.00" r="2.1" fill="#8e8e8e"/>
<circle cx="242.30" cy="381.40" r="2.25" fill="#111"/>
<circle cx="242.30" cy="404.60" r="2.25" fill="#111"/>
<circle cx="242.30" cy="410.90" r="2.25" fill="#111"/>
<circle cx="242.30" cy="413.90" r="2.25" fill="#111"/>
<circle cx="261.80" cy="391.50" r="2.1" fill="#c3c3c3"/>
<circle cx="261.80" cy="408.40" r="2.1" fill="#c3c3c3"/>
<circle cx="261.80" cy="411.00" r="2.1" fill="#c3c3c3"/>
<circle cx="261.80" cy="414.00" r="2.1" fill="#c3c3c3"/>
<circle cx="273.10" cy="398.80" r="2.1" fill="#8e8e8e"/>
<circle cx="273.10" cy="403.00" r="2.1" fill="#8e8e8e"/>
<circle cx="273.10" cy="406.00" r="2.1" fill="#8e8e8e"/>
<circle cx="273.10" cy="409.00" r="2.1" fill="#8e8e8e"/>
<circle cx="273.10" cy="412.00" r="2.1" fill="#8e8e8e"/>
<circle cx="273.10" cy="414.00" r="2.1" fill="#8e8e8e"/>
<circle cx="284.70" cy="386.90" r="2.25" fill="#111"/>
<circle cx="284.70" cy="393.20" r="2.25" fill="#111"/>
<circle cx="284.70" cy="412.10" r="2.25" fill="#111"/>
<circle cx="284.70" cy="414.20" r="2.25" fill="#111"/>
<circle cx="304.40" cy="372.50" r="2.1" fill="#c3c3c3"/>
<circle cx="304.40" cy="379.60" r="2.1" fill="#c3c3c3"/>
<circle cx="304.40" cy="386.10" r="2.1" fill="#c3c3c3"/>
<circle cx="304.40" cy="388.50" r="2.1" fill="#c3c3c3"/>
<circle cx="304.40" cy="391.00" r="2.1" fill="#c3c3c3"/>
<circle cx="304.40" cy="393.50" r="2.1" fill="#c3c3c3"/>
<circle cx="304.40" cy="396.00" r="2.1" fill="#c3c3c3"/>
<circle cx="304.40" cy="405.80" r="2.1" fill="#c3c3c3"/>
<circle cx="304.40" cy="408.50" r="2.1" fill="#c3c3c3"/>
<circle cx="315.80" cy="394.20" r="2.1" fill="#8e8e8e"/>
<circle cx="315.80" cy="397.00" r="2.1" fill="#8e8e8e"/>
<circle cx="315.80" cy="400.00" r="2.1" fill="#8e8e8e"/>
<circle cx="315.80" cy="403.00" r="2.1" fill="#8e8e8e"/>
<circle cx="315.80" cy="406.00" r="2.1" fill="#8e8e8e"/>
<circle cx="315.80" cy="409.00" r="2.1" fill="#8e8e8e"/>
<circle cx="315.80" cy="412.00" r="2.1" fill="#8e8e8e"/>
<circle cx="326.90" cy="408.80" r="2.25" fill="#111"/>
<circle cx="326.90" cy="411.50" r="2.25" fill="#111"/>
<circle cx="326.90" cy="414.00" r="2.25" fill="#111"/>
<circle cx="346.80" cy="393.20" r="2.1" fill="#c3c3c3"/>
<circle cx="346.80" cy="402.20" r="2.1" fill="#c3c3c3"/>
<circle cx="346.80" cy="410.30" r="2.1" fill="#c3c3c3"/>
<circle cx="358.10" cy="403.20" r="2.1" fill="#8e8e8e"/>
<circle cx="358.10" cy="405.50" r="2.1" fill="#8e8e8e"/>
<circle cx="358.10" cy="408.00" r="2.1" fill="#8e8e8e"/>
<circle cx="358.10" cy="410.50" r="2.1" fill="#8e8e8e"/>
<circle cx="358.10" cy="413.00" r="2.1" fill="#8e8e8e"/>
<circle cx="369.40" cy="405.30" r="2.25" fill="#111"/>
<circle cx="369.40" cy="410.80" r="2.25" fill="#111"/>
<circle cx="369.40" cy="414.60" r="2.25" fill="#111"/>
<line x1="91.5" y1="352.5" x2="104" y2="352.5" stroke="#111" stroke-width="1.0"/>
<polygon points="92.75,345.15 93.40,346.71 95.08,346.84 93.80,347.94 94.19,349.58 92.75,348.70 91.31,349.58 91.70,347.94 90.42,346.84 92.10,346.71" fill="#000"/>
<polygon points="97.75,345.15 98.40,346.71 100.08,346.84 98.80,347.94 99.19,349.58 97.75,348.70 96.31,349.58 96.70,347.94 95.42,346.84 97.10,346.71" fill="#000"/>
<polygon points="102.75,345.15 103.40,346.71 105.08,346.84 103.80,347.94 104.19,349.58 102.75,348.70 101.31,349.58 101.70,347.94 100.42,346.84 102.10,346.71" fill="#000"/>
<line x1="134.6" y1="331.5" x2="158.6" y2="331.5" stroke="#111" stroke-width="1.0"/>
<polygon points="146.60,324.15 147.25,325.71 148.93,325.84 147.65,326.94 148.04,328.58 146.60,327.70 145.16,328.58 145.55,326.94 144.27,325.84 145.95,325.71" fill="#000"/>
<line x1="147.2" y1="352.5" x2="158.3" y2="352.5" stroke="#111" stroke-width="1.0"/>
<polygon points="152.75,345.15 153.40,346.71 155.08,346.84 153.80,347.94 154.19,349.58 152.75,348.70 151.31,349.58 151.70,347.94 150.42,346.84 152.10,346.71" fill="#000"/>
<line x1="175.5" y1="358.5" x2="187.6" y2="358.5" stroke="#111" stroke-width="1.0"/>
<polygon points="181.55,351.15 182.20,352.71 183.88,352.84 182.60,353.94 182.99,355.58 181.55,354.70 180.11,355.58 180.50,353.94 179.22,352.84 180.90,352.71" fill="#000"/>
<line x1="188.6" y1="351.5" x2="200.7" y2="351.5" stroke="#111" stroke-width="1.0"/>
<polygon points="189.65,344.15 190.30,345.71 191.98,345.84 190.70,346.94 191.09,348.58 189.65,347.70 188.21,348.58 188.60,346.94 187.32,345.84 189.00,345.71" fill="#000"/>
<polygon points="194.65,344.15 195.30,345.71 196.98,345.84 195.70,346.94 196.09,348.58 194.65,347.70 193.21,348.58 193.60,346.94 192.32,345.84 194.00,345.71" fill="#000"/>
<polygon points="199.65,344.15 200.30,345.71 201.98,345.84 200.70,346.94 201.09,348.58 199.65,347.70 198.21,348.58 198.60,346.94 197.32,345.84 199.00,345.71" fill="#000"/>
<line x1="219.7" y1="358.5" x2="231.3" y2="358.5" stroke="#111" stroke-width="1.0"/>
<polygon points="225.50,351.15 226.15,352.71 227.83,352.84 226.55,353.94 226.94,355.58 225.50,354.70 224.06,355.58 224.45,353.94 223.17,352.84 224.85,352.71" fill="#000"/>
<line x1="303.9" y1="331.5" x2="327.4" y2="331.5" stroke="#111" stroke-width="1.0"/>
<polygon points="310.65,324.15 311.30,325.71 312.98,325.84 311.70,326.94 312.09,328.58 310.65,327.70 309.21,328.58 309.60,326.94 308.32,325.84 310.00,325.71" fill="#000"/>
<polygon points="315.65,324.15 316.30,325.71 317.98,325.84 316.70,326.94 317.09,328.58 315.65,327.70 314.21,328.58 314.60,326.94 313.32,325.84 315.00,325.71" fill="#000"/>
<polygon points="320.65,324.15 321.30,325.71 322.98,325.84 321.70,326.94 322.09,328.58 320.65,327.70 319.21,328.58 319.60,326.94 318.32,325.84 320.00,325.71" fill="#000"/>
<line x1="304.2" y1="358.5" x2="315.8" y2="358.5" stroke="#111" stroke-width="1.0"/>
<polygon points="310.00,351.15 310.65,352.71 312.33,352.84 311.05,353.94 311.44,355.58 310.00,354.70 308.56,355.58 308.95,353.94 307.67,352.84 309.35,352.71" fill="#000"/>
<line x1="316" y1="351.5" x2="327.4" y2="351.5" stroke="#111" stroke-width="1.0"/>
<polygon points="321.70,344.15 322.35,345.71 324.03,345.84 322.75,346.94 323.14,348.58 321.70,347.70 320.26,348.58 320.65,346.94 319.37,345.84 321.05,345.71" fill="#000"/>
<rect x="381.90" y="308.90" width="8.00" height="8.00" fill="#c3c3c3"/>
<text x="394.1" y="316.09999999999997" font-size="8.5" font-weight="bold" text-anchor="start" fill="#000" stroke="#000" stroke-width="0.25">HIV pentamer from HIV+</text>
<rect x="381.90" y="323.60" width="8.00" height="8.00" fill="#8e8e8e"/>
<text x="394.1" y="330.79999999999995" font-size="8.5" font-weight="bold" text-anchor="start" fill="#000" stroke="#000" stroke-width="0.25">CMV pentamer from HIV+</text>
<rect x="381.90" y="338.30" width="8.00" height="8.00" fill="#222"/>
<text x="394.1" y="345.49999999999994" font-size="8.5" font-weight="bold" text-anchor="start" fill="#000" stroke="#000" stroke-width="0.25">CMV pentamer from Healthy</text>
<text x="15.8" y="430.5" font-size="10.4" font-weight="bold" text-anchor="start" fill="#000" stroke="#000" stroke-width="0.25">CD57</text>
<text x="15.8" y="442.3" font-size="10.4" font-weight="bold" text-anchor="start" fill="#000" stroke="#000" stroke-width="0.25">CD100</text>
<text x="15.8" y="454.5" font-size="10.4" font-weight="bold" text-anchor="start" fill="#000" stroke="#000" stroke-width="0.25">PD1</text>
<text x="61.0" y="430.2" font-size="10.2" font-weight="bold" text-anchor="middle" fill="#000">+</text>
<text x="61.0" y="442.0" font-size="10.2" font-weight="bold" text-anchor="middle" fill="#000">+</text>
<text x="61.0" y="454.2" font-size="10.2" font-weight="bold" text-anchor="middle" fill="#000">+</text>
<text x="103.43" y="430.2" font-size="10.2" font-weight="bold" text-anchor="middle" fill="#000">+</text>
<text x="103.43" y="442.0" font-size="10.2" font-weight="bold" text-anchor="middle" fill="#000">+</text>
<line x1="101.13000000000001" y1="450.7" x2="105.73" y2="450.7" stroke="#000" stroke-width="1.2"/>
<text x="145.86" y="430.2" font-size="10.2" font-weight="bold" text-anchor="middle" fill="#000">+</text>
<line x1="143.56" y1="438.5" x2="148.16000000000003" y2="438.5" stroke="#000" stroke-width="1.2"/>
<text x="145.86" y="454.2" font-size="10.2" font-weight="bold" text-anchor="middle" fill="#000">+</text>
<text x="188.29" y="430.2" font-size="10.2" font-weight="bold" text-anchor="middle" fill="#000">+</text>
<line x1="185.98999999999998" y1="438.5" x2="190.59" y2="438.5" stroke="#000" stroke-width="1.2"/>
<line x1="185.98999999999998" y1="450.7" x2="190.59" y2="450.7" stroke="#000" stroke-width="1.2"/>
<line x1="228.42" y1="426.7" x2="233.02" y2="426.7" stroke="#000" stroke-width="1.2"/>
<text x="230.72" y="442.0" font-size="10.2" font-weight="bold" text-anchor="middle" fill="#000">+</text>
<text x="230.72" y="454.2" font-size="10.2" font-weight="bold" text-anchor="middle" fill="#000">+</text>
<line x1="270.84999999999997" y1="426.7" x2="275.45" y2="426.7" stroke="#000" stroke-width="1.2"/>
<text x="273.15" y="442.0" font-size="10.2" font-weight="bold" text-anchor="middle" fill="#000">+</text>
<line x1="270.84999999999997" y1="450.7" x2="275.45" y2="450.7" stroke="#000" stroke-width="1.2"/>
<line x1="313.28" y1="426.7" x2="317.88" y2="426.7" stroke="#000" stroke-width="1.2"/>
<line x1="313.28" y1="438.5" x2="317.88" y2="438.5" stroke="#000" stroke-width="1.2"/>
<text x="315.58" y="454.2" font-size="10.2" font-weight="bold" text-anchor="middle" fill="#000">+</text>
<line x1="355.71" y1="426.7" x2="360.31" y2="426.7" stroke="#000" stroke-width="1.2"/>
<line x1="355.71" y1="438.5" x2="360.31" y2="438.5" stroke="#000" stroke-width="1.2"/>
<line x1="355.71" y1="450.7" x2="360.31" y2="450.7" stroke="#000" stroke-width="1.2"/>
</svg>
</body></html>
